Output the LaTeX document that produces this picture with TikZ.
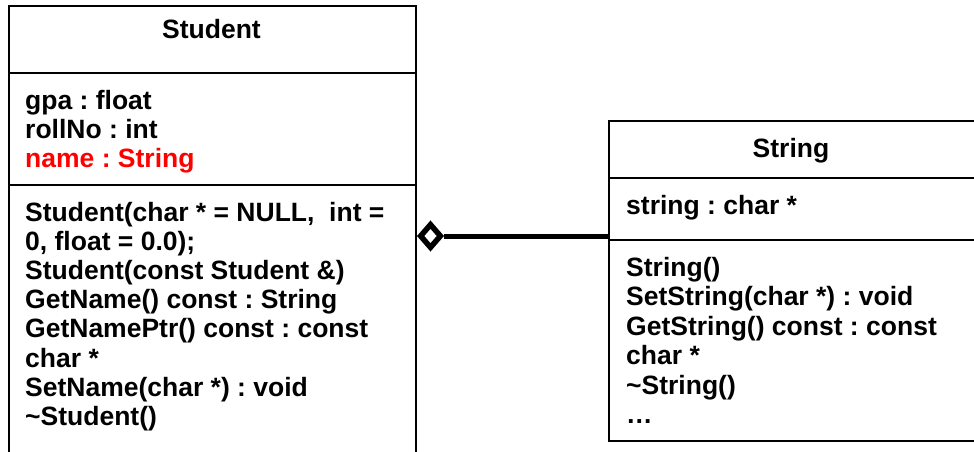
\documentclass[tikz,border=0pt]{standalone}
\usepackage{fontspec}
\setmainfont{Liberation Sans}
\usetikzlibrary{shapes.geometric}
\frenchspacing
\begin{document}
\begin{tikzpicture}[x=1pt,y=-1pt,
  box/.style={draw=black, line width=1.8pt},
  classbox/.style={box, anchor=north west, inner sep=0pt},
  txt/.style={anchor=base west, inner sep=0pt, font=\fontsize{26.5}{30}\selectfont\bfseries},
  ttl/.style={anchor=base, inner sep=0pt, font=\fontsize{26.5}{30}\selectfont\bfseries},
  agg/.style={diamond, draw=black, fill=white, line width=5.5pt, minimum width=22pt, minimum height=25pt, inner sep=0pt},
  link/.style={draw=black, line width=5pt}]
\useasboundingbox (0,0) rectangle (974,452);
% Student class
\node[classbox, minimum width=407pt, minimum height=470pt] (student) at (8,5) {};
\draw[box] (8,73) -- (415,73);
\draw[box] (8,185) -- (415,185);
\node[ttl] (st-title) at (211.5,39) {Student};
\node[txt] (st-a1) at (25,109) {gpa : float};
\node[txt] (st-a2) at (25,138) {rollNo : int};
\node[txt, text=red] (st-a3) at (25,167) {name : String};
\foreach \t [count=\i] in {{Student(char * = NULL,\ \ int =},{0, float = 0.0);},Student(const Student \&),GetName() const : String,GetNamePtr() const : const,char *,SetName(char *) : void,\textasciitilde Student()}
  \node[txt] (st-m\i) at (25,{221+(\i-1)*29.2}) {\t};
% String class
\node[classbox, minimum width=380pt, minimum height=320pt] (string) at (608,120) {};
\draw[box] (608,178) -- (990,178);
\draw[box] (608,240) -- (990,240);
\node[ttl] (str-title) at (791,157) {String};
\node[txt] (str-a1) at (626,214) {string : char *};
\foreach \t [count=\i] in {String(),SetString(char *) : void,GetString() const : const,char *,\textasciitilde String(),…}
  \node[txt] (str-m\i) at (626,{276+(\i-1)*29.5}) {\t};
% aggregation
\node[agg] (dia) at (430.5,236) {};
\draw[link] (dia.east) -- (dia.east -| string.west);
\end{tikzpicture}
\end{document}
